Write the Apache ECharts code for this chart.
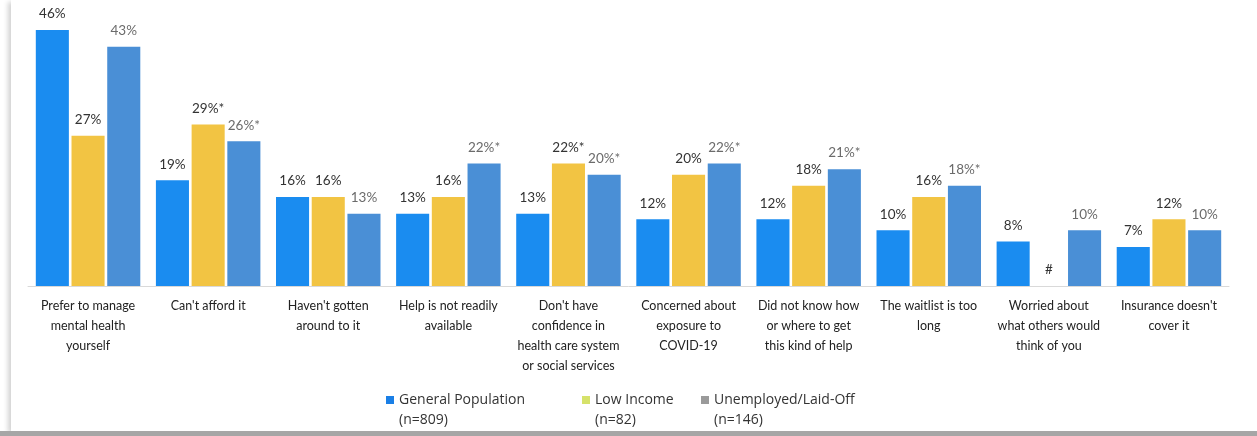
<!DOCTYPE html>
<html>
<head>
<meta charset="utf-8">
<script src="https://cdn.jsdelivr.net/npm/echarts@6/dist/echarts.min.js"></script>
<style>
  html, body { margin: 0; padding: 0; background: #fff; overflow: hidden; }
  #frame { position: absolute; left: 11px; top: 0; width: 1246px; height: 431px; background: #fff; box-shadow: -3px 2px 5px rgba(0,0,0,0.18); }
  #strip { position: absolute; left: 0; top: 431px; width: 1257px; height: 5px; background: #a6a6a6; }
  #chart { position: absolute; left: 0; top: 0; width: 1257px; height: 436px; }
</style>
</head>
<body>
<div id="frame"></div>
<div id="strip"></div>
<div id="chart"></div>
<script>
const categories = [
  "Prefer to manage\nmental health\nyourself",
  "Can't afford it",
  "Haven't gotten\naround to it",
  "Help is not readily\navailable",
  "Don't have\nconfidence in\nhealth care system\nor social services",
  "Concerned about\nexposure to\nCOVID-19",
  "Did not know how\nor where to get\nthis kind of help",
  "The waitlist is too\nlong",
  "Worried about\nwhat others would\nthink of you",
  "Insurance doesn't\ncover it"
];
const seriesNames = ["General Population", "Low Income", "Unemployed/Laid-Off"];
const sampleSizes = ["(n=809)", "(n=82)", "(n=146)"];
const generalPop = [46, 19, 16, 13, 13, 12, 12, 10, 8, 7];
const lowIncome = [27, 29, 16, 16, 22, 20, 18, 16, 0, 12];
const unemployed = [43, 26, 13, 22, 20, 22, 21, 18, 10, 10];
// label suffix flags: "*" significance markers, "#" suppressed value
const generalMarks = ["", "", "", "", "", "", "", "", "", ""];
const lowIncomeMarks = ["", "*", "", "", "*", "", "", "", "#", ""];
const unemployedMarks = ["", "*", "", "*", "*", "*", "*", "*", "", ""];

const colors = ["#1a8cf0", "#f2c443", "#4a8fd6"];
const legendColors = ["#1a7fe6", "#d6e26a", "#9a9a9a"];
const legendLefts = [381, 577, 696];

function fmt(marks) {
  return function (p) {
    const m = marks[p.dataIndex];
    if (m === "#") return "#";
    return p.value + "%" + m;
  };
}

const allData = [generalPop, lowIncome, unemployed];
const allMarks = [generalMarks, lowIncomeMarks, unemployedMarks];
const labelColors = ["#333", "#333", "#6b6b6b"];

const chart = echarts.init(document.getElementById("chart"), null, { renderer: "canvas" });
chart.setOption({
  backgroundColor: "transparent",
  animation: false,
  grid: { left: 28, right: 28, top: 30, bottom: 150 },
  legend: seriesNames.map((n, i) => ({
    top: 385,
    left: legendLefts[i],
    itemWidth: 8,
    itemHeight: 28,
    icon: "path://M0,0h8v8h-8Z M0,28",
    textStyle: { fontFamily: "Open Sans", fontSize: 14, color: "#333", lineHeight: 20 },
    formatter: function (name) {
      return name + "\n" + sampleSizes[seriesNames.indexOf(name)];
    },
    data: [{ name: n, itemStyle: { color: legendColors[i] } }]
  })),
  xAxis: {
    type: "category",
    data: categories,
    axisLine: { lineStyle: { color: "#d9d9d9" } },
    axisTick: { show: false },
    axisLabel: { fontFamily: "Lato", fontSize: 12.5, color: "#222", lineHeight: 20, margin: 10, interval: 0 }
  },
  yAxis: { type: "value", min: 0, max: 46, show: false, splitLine: { show: false } },
  series: seriesNames.map((n, i) => ({
    name: n,
    type: "bar",
    data: allData[i],
    barGap: "8%",
    barCategoryGap: "13%",
    itemStyle: { color: colors[i] },
    label: {
      show: true,
      position: "top",
      distance: 9,
      fontFamily: "Lato",
      fontSize: 13.5,
      color: labelColors[i],
      formatter: fmt(allMarks[i])
    }
  }))
});
</script>
</body>
</html>
